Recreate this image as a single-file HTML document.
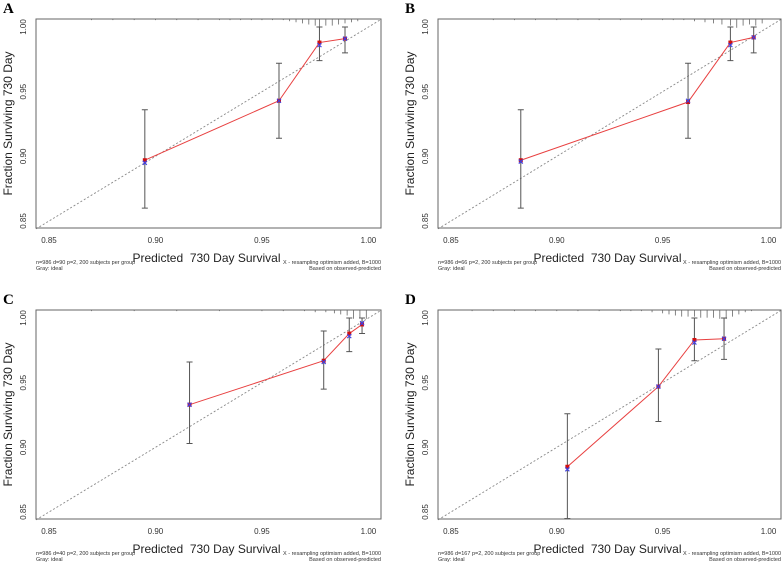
<!DOCTYPE html>
<html><head><meta charset="utf-8">
<style>
body{margin:0;background:#fff;width:783px;height:564px;overflow:hidden;font-family:"Liberation Sans",Arial,sans-serif;}
svg{display:block}
</style></head>
<body>
<svg id="fig" width="783" height="564" xmlns="http://www.w3.org/2000/svg"></svg>
<script>
// ---- data (panels A-D) ----
const panelLetters = ["A","B","C","D"];
const predA = [0.895, 0.958, 0.977, 0.989];
const obsA  = [0.897, 0.943, 0.988, 0.991];
const corA  = [0.895, 0.943, 0.986, 0.991];
const loA   = [0.860, 0.914, 0.974, 0.980];
const hiA   = [0.936, 0.972, 1.000, 1.000];
const predB = [0.883, 0.962, 0.982, 0.993];
const obsB  = [0.897, 0.942, 0.988, 0.992];
const corB  = [0.896, 0.943, 0.986, 0.992];
const loB   = [0.860, 0.914, 0.974, 0.980];
const hiB   = [0.936, 0.972, 1.000, 1.000];
const predC = [0.916, 0.979, 0.991, 0.997];
const obsC  = [0.933, 0.967, 0.988, 0.995];
const corC  = [0.933, 0.966, 0.986, 0.996];
const loC   = [0.903, 0.945, 0.974, 0.988];
const hiC   = [0.966, 0.990, 1.000, 1.000];
const predD = [0.905, 0.948, 0.965, 0.979];
const obsD  = [0.885, 0.947, 0.983, 0.984];
const corD  = [0.883, 0.947, 0.981, 0.984];
const loD   = [0.845, 0.920, 0.967, 0.968];
const hiD   = [0.926, 0.976, 1.000, 1.000];
const dCounts = ["90","66","40","167"];
// rug (distribution of predictions): x values and relative tick lengths
const rugXA = [0.87,0.88,0.89,0.90,0.91,0.92,0.93,0.935,0.94,0.945,0.95,0.955,0.96,0.963,0.966,0.969,0.972,0.975,0.977,0.980,0.983,0.986,0.989,0.992,0.995];
const rugHA = [1,1,1,1,1,1,1,1,1,1,1,1,1,2,3,4,5,6,8,6,6,5,4,3,2];
const rugXB = [0.87,0.88,0.89,0.90,0.91,0.92,0.93,0.94,0.95,0.955,0.96,0.965,0.97,0.974,0.978,0.982,0.985,0.988,0.991,0.994,0.997];
const rugHB = [1,1,1,1,1,1,1,1,1,1,1,2,3,4,5,6,8,6,5,6,4];
const rugXC = [0.87,0.89,0.91,0.93,0.95,0.96,0.97,0.975,0.98,0.984,0.987,0.990,0.993,0.996,0.999];
const rugHC = [1,1,1,1,1,1,1,2,2,3,4,5,8,7,8];
const rugXD = [0.86,0.87,0.88,0.89,0.90,0.91,0.92,0.93,0.935,0.94,0.945,0.95,0.953,0.956,0.959,0.962,0.965,0.968,0.971,0.974,0.977,0.980,0.983,0.986,0.989,0.992];
const rugHD = [1,1,1,1,1,1,1,1,1,1,2,3,4,5,6,6,6,7,7,7,8,8,6,4,2,1];
const xTicks = [0.85, 0.90, 0.95, 1.00];
const yTicks = [0.85, 0.90, 0.95, 1.00];
const xTickLabels = ["0.85","0.90","0.95","1.00"];
const yTickLabels = ["0.85","0.90","0.95","1.00"];

const panels = [
 {pred:predA,obs:obsA,cor:corA,lo:loA,hi:hiA,rx:rugXA,rh:rugHA,ox:0,oy:0,w:345},
 {pred:predB,obs:obsB,cor:corB,lo:loB,hi:hiB,rx:rugXB,rh:rugHB,ox:402,oy:0,w:343},
 {pred:predC,obs:obsC,cor:corC,lo:loC,hi:hiC,rx:rugXC,rh:rugHC,ox:0,oy:291,w:345},
 {pred:predD,obs:obsD,cor:corD,lo:loD,hi:hiD,rx:rugXD,rh:rugHD,ox:402,oy:291,w:343}
];
const NS="http://www.w3.org/2000/svg";
const fig=document.getElementById('fig');
function mk(tag,attrs,parent,txt){const e=document.createElementNS(NS,tag);for(const k in attrs)e.setAttribute(k,attrs[k]);if(txt!==undefined)e.textContent=txt;parent.appendChild(e);return e;}
const XMIN=0.8439,XMAX=1.0059,YMIN=0.8446,YMAX=1.0062;

panels.forEach((p,i)=>{
  const g=mk('g',{},fig);
  
  
  const L=p.ox+36,T=p.oy+19,W=p.w,H=209;
  const sx=v=>L+(v-XMIN)/(XMAX-XMIN)*W;
  const sy=v=>T+H-(v-YMIN)/(YMAX-YMIN)*H;
  const lt=mk('text',{x:p.ox+3,y:p.oy+13,'font-family':'Liberation Serif,serif','font-weight':'bold','font-size':'15'},g,panelLetters[i]);
  
  
  const id=mk('line',{x1:sx(XMIN),y1:sy(XMIN),x2:sx(XMAX),y2:sy(XMAX),stroke:'#888','stroke-width':0.9,'stroke-dasharray':'2,2'},g);
  
  
  p.rx.forEach((v,k)=>{
    const r=mk('line',{x1:sx(v),y1:T,x2:sx(v),y2:T+p.rh[k]*1.1,stroke:'#666','stroke-width':0.8},g);
    
    
  });
  p.pred.forEach((v,k)=>{
    const x=sx(v),y1=sy(p.lo[k]),y2=sy(p.hi[k]);
    const e=mk('path',{d:`M${x},${y1}V${y2}M${x-3},${y1}H${x+3}M${x-3},${y2}H${x+3}`,stroke:'#555','stroke-width':1,fill:'none'},g);
    
    
  });
  const pts=p.pred.map((v,k)=>sx(v)+','+sy(p.obs[k])).join(' ');
  const pl=mk('polyline',{points:pts,fill:'none',stroke:'#e84040','stroke-width':1},g);
  
  
  p.pred.forEach((v,k)=>{
    const c=mk('rect',{x:sx(v)-2,y:sy(p.obs[k])-2,width:4,height:4,fill:'#d01010'},g);
    
    
    const x=sx(v),y=sy(p.cor[k]);
    const b=mk('path',{d:`M${x-2},${y-2}L${x+2},${y+2}M${x-2},${y+2}L${x+2},${y-2}`,stroke:'#4040e0','stroke-width':1.2},g);
    
    
  });
  const bx=mk('rect',{x:L,y:T,width:W,height:H,fill:'none',stroke:'#666','stroke-width':1},g);
  
  
  xTicks.forEach((v,k)=>{
    const t=mk('text',{x:sx(v),y:T+H+15,'font-size':'8','text-anchor':'middle',fill:'#333'},g,xTickLabels[k]);
    
    
  });
  yTicks.forEach((v,k)=>{
    const yy=sy(v);
    const t=mk('text',{x:0,y:0,'font-size':'8','text-anchor':'middle',fill:'#333',transform:`translate(${L-10},${yy}) rotate(-90)`},g,yTickLabels[k]);
    
    
  });
  const yt=mk('text',{x:0,y:0,'font-size':'12','text-anchor':'middle',fill:'#222',transform:`translate(${p.ox+12},${T+H/2}) rotate(-90)`},g,'Fraction Surviving 730 Day');
  
  
  const xt=mk('text',{x:L+W/2-2,y:p.oy+262,'font-size':'12','text-anchor':'middle',fill:'#222'},g,'Predicted  730 Day Survival');
  xt.setAttribute('style','white-space:pre');
  
  
  const f1=mk('text',{x:L,y:p.oy+264,'font-size':'5.5',fill:'#333'},g,'n=986 d='+dCounts[i]+' p=2, 200 subjects per group');
  
  
  const f2=mk('text',{x:L,y:p.oy+270,'font-size':'5.5',fill:'#333'},g,'Gray: ideal');
  
  
  const f3=mk('text',{x:L+W,y:p.oy+264,'font-size':'5.5',fill:'#333','text-anchor':'end'},g,'X - resampling optimism added, B=1000');
  
  
  const f4=mk('text',{x:L+W,y:p.oy+270,'font-size':'5.5',fill:'#333','text-anchor':'end'},g,'Based on observed-predicted');
  
  
});
</script>
</body></html>
